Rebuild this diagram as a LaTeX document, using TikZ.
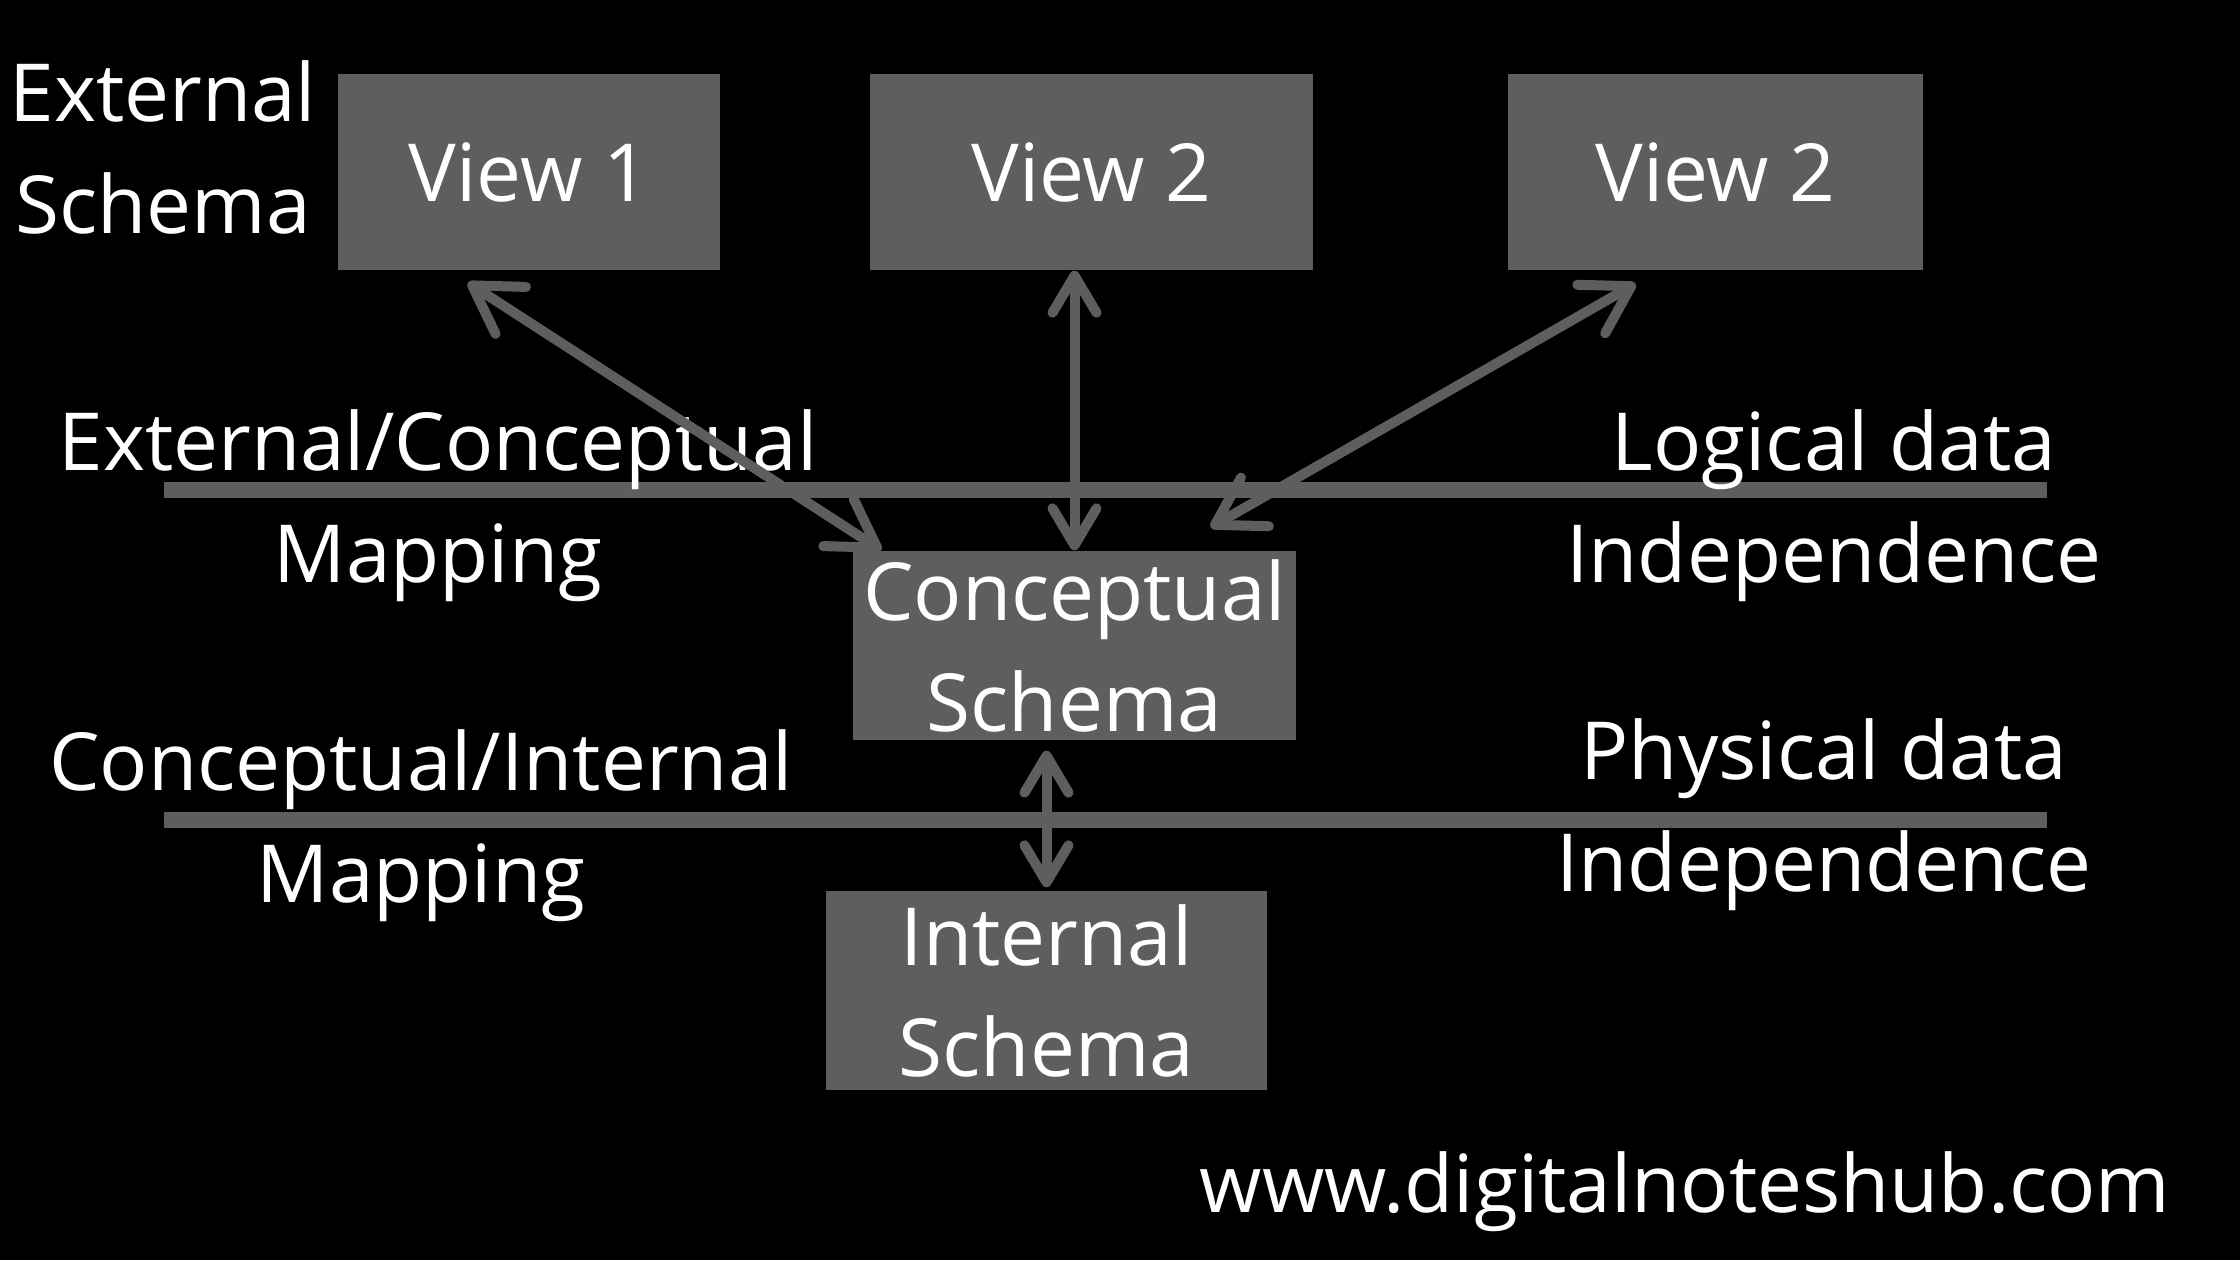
\documentclass[tikz,border=0pt]{standalone}
\usepackage{fontspec}
\setmainfont{Open Sans}
\usetikzlibrary{arrows.meta}

\definecolor{boxgray}{HTML}{5E5E5E}
\pagecolor{black}

\tikzstyle{every node}=[text=white,font=\fontsize{22.8}{31.6}\selectfont]
\tikzstyle{schema}=[rectangle,fill=boxgray,inner sep=0pt,align=center]
\tikzstyle{caption}=[anchor=base,align=center,inner sep=0pt]
\tikzstyle{level}=[draw=boxgray,line width=1.6mm]
\tikzstyle{mapping}=[draw=boxgray,line width=1mm,>={Straight Barb[length=3.7mm,width=4.4mm,round]},<->]
\tikzstyle{slanted}=[mapping,>={Straight Barb[length=4.6mm,width=5.6mm,round]}]

\begin{document}
\begin{tikzpicture}

\fill[black] (0,0) rectangle (22.4,12.6);
\useasboundingbox (0,0) rectangle (22.4,12.6);

% level lines
\coordinate (l1a) at (1.64,7.70);
\coordinate (l1b) at (20.47,7.70);
\coordinate (l2a) at (1.64,4.40);
\coordinate (l2b) at (20.47,4.40);
\path[level] (l1a) -- (l1b);
\path[level] (l2a) -- (l2b);

\node[schema,minimum width=3.82cm,minimum height=1.96cm] (view1) at (5.29,10.88) {View 1};
\node[schema,minimum width=4.43cm,minimum height=1.96cm] (view2) at (10.915,10.88) {View 2};
\node[schema,minimum width=4.15cm,minimum height=1.96cm] (view3) at (17.155,10.88) {View 2};

\node[schema,minimum width=4.43cm,minimum height=1.89cm] (concept) at (10.745,6.145) {Conceptual\\Schema};
\node[schema,minimum width=4.41cm,minimum height=1.99cm] (internal) at (10.465,2.695) {Internal\\Schema};

% base = last line
\node[caption] (extlabel) at (1.63,10.27) {External\\Schema};
\node[caption] (extmap) at (4.38,6.78) {External/Conceptual\\Mapping};
\node[caption] (logical) at (18.34,6.78) {Logical data\\Independence};
\node[caption] (intmap) at (4.21,3.58) {Conceptual/Internal\\Mapping};
\node[caption] (physical) at (18.24,3.69) {Physical data\\Independence};
\node[caption] (site) at (16.85,0.48) {www.digitalnoteshub.com};

\path[slanted] ([xshift=-6.1mm,yshift=-1.2mm]view1.south) -- ([xshift=2.9mm]concept.north west);
\path[mapping] (concept.north |- view2.south) -- (concept.north);
\path[slanted] ([xshift=-8mm,yshift=-1.3mm]view3.south) -- ([shift={(-8.6mm,2.3mm)}]concept.north east);
\path[mapping] ([yshift=-1mm]internal.north |- concept.south) -- ([yshift=0.3mm]internal.north);

\end{tikzpicture}
\end{document}
